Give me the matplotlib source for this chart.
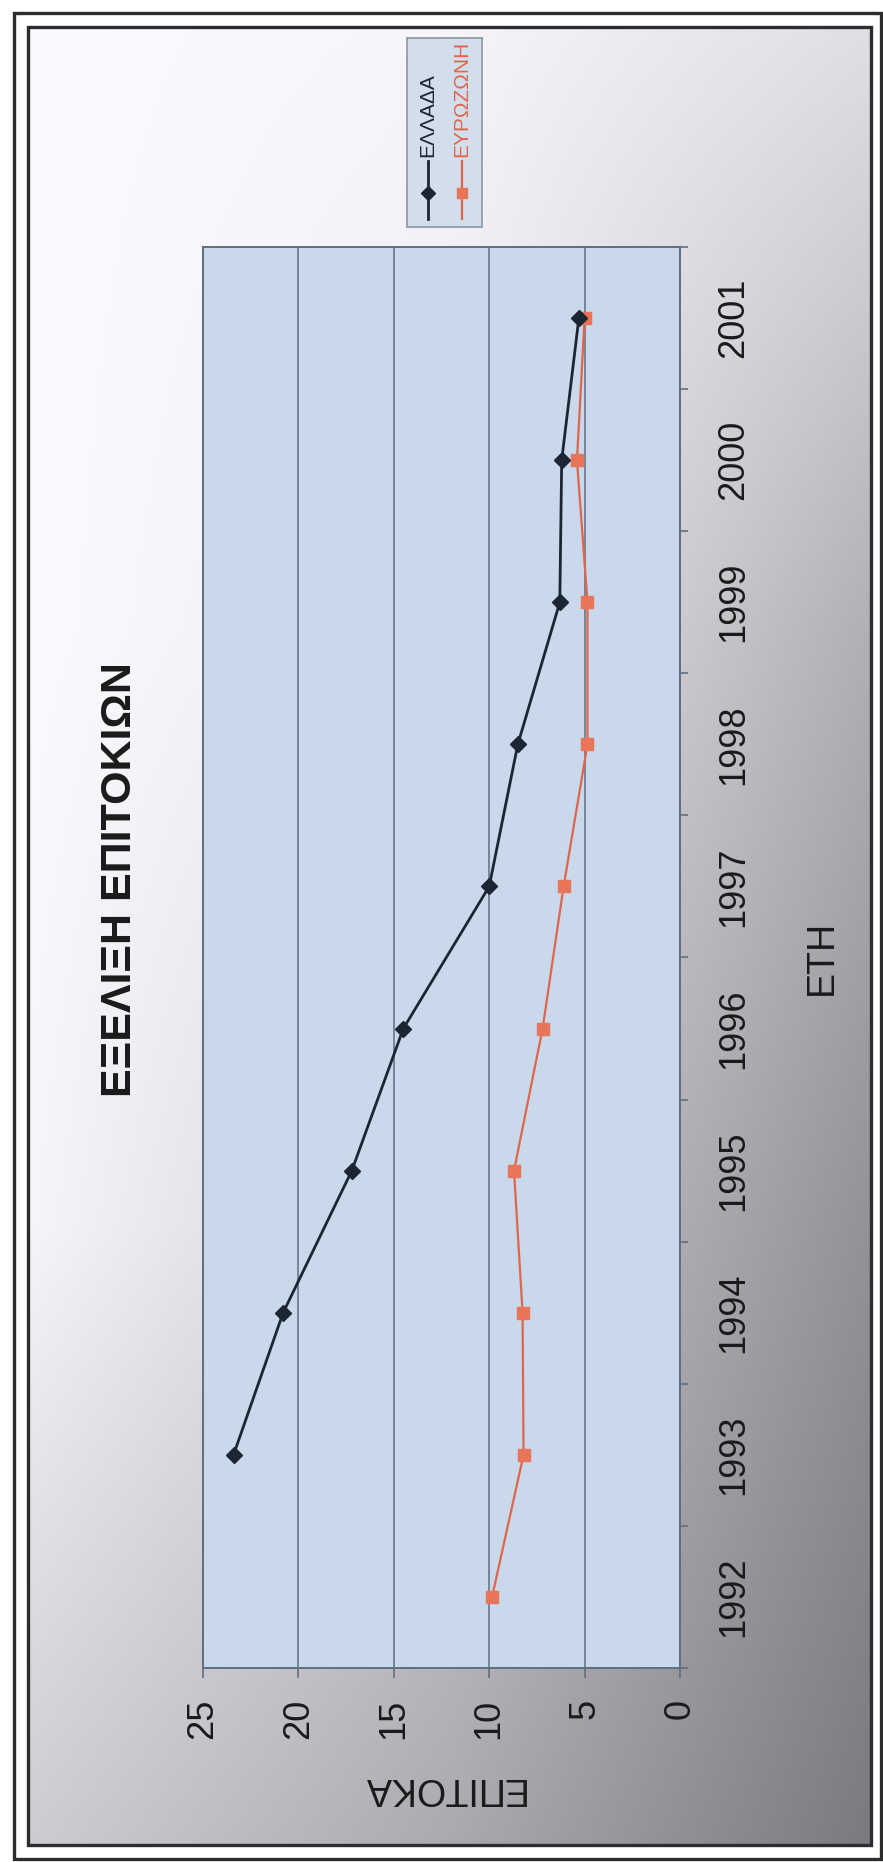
import numpy as np
import matplotlib
matplotlib.use("Agg")
import matplotlib.pyplot as plt
from matplotlib.patches import Rectangle

# ---- data ----
years = ['1992', '1993', '1994', '1995', '1996', '1997', '1998', '1999', '2000', '2001']
greece = [np.nan, 23.4, 20.8, 17.2, 14.5, 10.0, 8.5, 6.3, 6.2, 5.3]
eurozone = [9.85, 8.2, 8.25, 8.7, 7.2, 6.1, 4.85, 4.85, 5.4, 5.0]
value_ticks = [0, 5, 10, 15, 20, 25]

title_text = 'ΕΞΕΛΙΞΗ ΕΠΙΤΟΚΙΩΝ'
xlabel_text = 'ΕΤΗ'
ylabel_text = 'ΕΠΙΤΟΚΑ'
series_names = ['ΕΛΛΑΔΑ', 'ΕΥΡΩΖΩΝΗ']

# ---- style ----
FONT = ['Liberation Sans', 'DejaVu Sans']
plt.rcParams['font.family'] = FONT
GR_COLOR = '#1c2532'
EU_COLOR = '#e0664b'
EU_MARK = '#e8755a'
PLOT_BG = '#c9d8eb'
GRID = '#5f6f82'

W, H = 883, 1862
fig = plt.figure(figsize=(W / 100, H / 100), dpi=100)
fig.patch.set_facecolor('white')


def fx(px):
    return px / W


def fy(py):
    return 1 - py / H


def box(x0, y0, x1, y1):
    return [fx(x0), fy(y1), fx(x1) - fx(x0), fy(y0) - fy(y1)]


# chart area: grey gradient, light at upper left, dark toward lower right
bg = fig.add_axes(box(28, 27, 871, 1845), zorder=-5)
grid_u = [0.0, 0.5, 1.0]
grid_v = [0.0, 0.33, 0.66, 1.0]
ctrl = np.array([[252, 247, 225],
                 [252, 236, 178],
                 [247, 206, 148],
                 [206, 172, 124]], dtype=float)
u = np.linspace(0, 1, 300)
v = np.linspace(0, 1, 600)
rows = np.array([np.interp(u, grid_u, r) for r in ctrl])
img = np.array([np.interp(v, grid_v, rows[:, j]) for j in range(u.size)]).T
rgb = np.stack([img, img - 2, img + 3], axis=-1).clip(0, 255) / 255
bg.imshow(rgb, aspect='auto', extent=[0, 1, 0, 1], origin='upper',
          interpolation='bilinear')
bg.axis('off')

# double frame
fig.add_artist(Rectangle((fx(14), fy(1859)), fx(881) - fx(14), fy(13) - fy(1859),
                         transform=fig.transFigure, fill=False, ec='#2d2d2f', lw=2.4))
fig.add_artist(Rectangle((fx(28), fy(1845)), fx(871) - fx(28), fy(27) - fy(1845),
                         transform=fig.transFigure, fill=False, ec='#2d2d2f', lw=2.4))

# ---- main plot (values across, years upward) ----
ax = fig.add_axes(box(203, 247, 680, 1668))
ax.set_facecolor(PLOT_BG)
ypos = np.arange(len(years))
ax.plot(greece, ypos, color=GR_COLOR, lw=2.0, marker='D', ms=8,
        mfc=GR_COLOR, mec=GR_COLOR, zorder=4)
ax.plot(eurozone, ypos, color=EU_COLOR, lw=1.6, marker='s', ms=8,
        mfc=EU_MARK, mec=EU_MARK, zorder=3)

ax.set_xlim(25, 0)
ax.set_ylim(-0.5, len(years) - 0.5)

ax.set_xticks(value_ticks)
ax.set_xticklabels([str(t) for t in value_ticks], rotation=90, fontsize=26,
                   color='#1a1a1a')
ax.tick_params(axis='x', length=7, width=1.2, direction='out', pad=15,
               color=GRID)
ax.xaxis.grid(True, color=GRID, lw=1.1)
ax.set_axisbelow(True)

ax.yaxis.tick_right()
ax.set_yticks(ypos)
ax.set_yticklabels(years, rotation=90, va='center', fontsize=26, color='#1a1a1a')
ax.set_yticks(np.arange(-0.5, len(years), 1.0), minor=True)
ax.tick_params(axis='y', which='major', length=0, pad=26)
ax.tick_params(axis='y', which='minor', length=6, width=1.2, direction='out',
               color=GRID, right=True, left=False)

for sp in ax.spines.values():
    sp.set_color(GRID)
    sp.set_linewidth(1.4)

ax.set_ylabel(xlabel_text, rotation=90, fontsize=27, color='#1a1a1a',
              ha='center', va='center')
ax.yaxis.set_label_position('right')
ax.yaxis.set_label_coords(1.26, 0.5)

ax.set_xlabel(ylabel_text, rotation=180, fontsize=27, color='#1a1a1a',
              ha='center', va='center')
ax.xaxis.set_label_coords(0.5, -0.0845)

# title
fig.text(fx(120), fy(880), title_text, rotation=90, fontsize=31,
         fontweight='bold', color='#1a1a1a', ha='center', va='center')

# ---- legend ----
lg = fig.add_axes(box(407, 38, 482, 227))
lg.set_facecolor('#d2deeb')
lg.set_xlim(0, 1)
lg.set_ylim(0, 1)
lg.set_xticks([])
lg.set_yticks([])
for sp in lg.spines.values():
    sp.set_color('#8a97a6')
    sp.set_linewidth(1.2)
entries = [(0.28, series_names[0], GR_COLOR, GR_COLOR, 'D', 2.0),
           (0.73, series_names[1], EU_COLOR, EU_MARK, 's', 1.6)]
for xc, name, lc, mc, mk, lw in entries:
    lg.plot([xc, xc], [0.04, 0.35], color=lc, lw=lw)
    lg.plot([xc], [0.18], marker=mk, ms=7, mfc=mc, mec=mc, color=lc)
    lg.text(xc, 0.37, name, rotation=90, ha='center', va='bottom',
            fontsize=15, color=lc)

fig.savefig('out.png', dpi=100, facecolor=fig.get_facecolor())
